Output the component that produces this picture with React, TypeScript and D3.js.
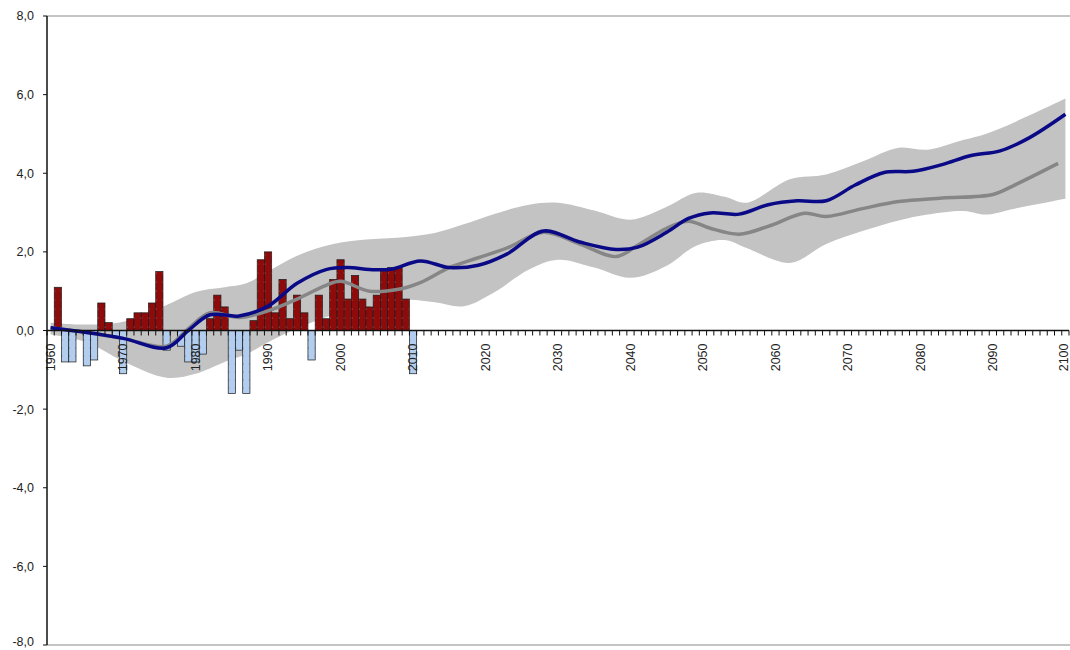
import React from 'react';
import * as d3 from 'd3';

// yearly anomaly bars (observed)
const barYears = d3.range(1961, 2011);
const anomalies = [
  1.1, -0.8, -0.8, 0.0, -0.9, -0.75, 0.7, 0.2, -0.15, -1.1,
  0.3, 0.45, 0.45, 0.7, 1.5, -0.5, 0.0, -0.4, -0.8, -0.8,
  -0.6, 0.3, 0.9, 0.6, -1.6, -0.5, -1.6, 0.25, 1.8, 2.0,
  0.45, 1.3, 0.3, 0.9, 0.45, -0.75, 0.9, 0.3, 1.3, 1.8,
  0.8, 1.4, 0.8, 0.6, 0.9, 1.55, 1.6, 1.6, 0.8, -1.1
];

// blue smoothed series
const blueYears = [1960, 1965, 1970, 1976, 1979, 1982, 1986, 1990, 1994, 1998, 2001, 2004, 2007, 2011, 2015, 2019, 2023, 2028, 2033, 2038, 2041, 2045, 2048, 2051, 2055, 2059, 2063, 2067, 2071, 2075, 2079, 2083, 2087, 2091, 2095, 2100];
const blueValues = [0.07, -0.05, -0.2, -0.44, 0.0, 0.4, 0.37, 0.62, 1.2, 1.55, 1.6, 1.55, 1.56, 1.77, 1.6, 1.66, 1.95, 2.53, 2.25, 2.06, 2.12, 2.5, 2.85, 2.99, 2.96, 3.2, 3.3, 3.3, 3.7, 4.02, 4.05, 4.22, 4.45, 4.57, 4.9, 5.5];

// grey smoothed series
const greyYears = [1960, 1965, 1970, 1976, 1979, 1982, 1986, 1990, 1994, 1998, 2000, 2004, 2008, 2011, 2015, 2019, 2023, 2028, 2033, 2038, 2041, 2045, 2048, 2051, 2055, 2059, 2064, 2067, 2072, 2077, 2083, 2090, 2093, 2099];
const greyValues = [0.07, -0.05, -0.2, -0.4, 0.05, 0.45, 0.33, 0.5, 0.8, 1.15, 1.25, 1.0, 1.05, 1.22, 1.6, 1.85, 2.1, 2.5, 2.2, 1.88, 2.17, 2.6, 2.78, 2.6, 2.45, 2.65, 2.98, 2.9, 3.1, 3.28, 3.37, 3.46, 3.7, 4.25];

// uncertainty band
const bandYears = [1960, 1965, 1970, 1976, 1980, 1984, 1987, 1990, 1994, 1999, 2004, 2009, 2013, 2017, 2021, 2026, 2030, 2035, 2040, 2045, 2049, 2053, 2056, 2062, 2067, 2072, 2077, 2081, 2086, 2089, 2093, 2100];
const bandHigh = [0.2, 0.15, 0.22, 0.65, 0.98, 1.1, 1.2, 1.5, 1.9, 2.2, 2.32, 2.38, 2.48, 2.7, 2.95, 3.2, 3.25, 3.05, 2.82, 3.15, 3.5, 3.4, 3.25, 3.85, 3.97, 4.3, 4.65, 4.6, 4.85, 5.0, 5.3, 5.9];
const bandLow = [-0.1, -0.3, -0.78, -1.2, -1.1, -0.8, -0.6, -0.3, 0.05, 0.4, 0.6, 0.78, 0.72, 0.62, 0.95, 1.55, 1.8, 1.6, 1.34, 1.65, 2.15, 2.3, 2.1, 1.72, 2.2, 2.53, 2.8, 2.95, 3.04, 2.95, 3.1, 3.35];

const categories = d3.range(1960, 2101);
const labelYears = d3.range(1960, 2101, 10);
const yTicks = [8, 6, 4, 2, 0, -2, -4, -6, -8];

const W = 1070;
const H = 650;
const left = 47;
const right = 1069;

export default function App() {
  const x = d3.scaleBand<number>().domain(categories).range([left, right]).padding(0);
  const bw = x.bandwidth();
  const cx = (yr: number) => (x(yr) as number) + bw / 2;
  const y = d3.scaleLinear().domain([-8, 8]).range([645, 16]);
  const y0 = y(0);
  const fmt = (v: number) => d3.format('.1f')(v).replace('.', ',').replace('−', '-');

  const curve = d3.curveCatmullRom.alpha(0.5);
  const line = d3.line<[number, number]>().x(d => cx(d[0])).y(d => y(d[1])).curve(curve);
  const band = d3.area<number>()
    .x((d, i) => cx(bandYears[i]))
    .y0((d, i) => y(bandLow[i]))
    .y1((d, i) => y(bandHigh[i]))
    .curve(curve);

  const bluePts = blueYears.map((yr, i) => [yr, blueValues[i]] as [number, number]);
  const greyPts = greyYears.map((yr, i) => [yr, greyValues[i]] as [number, number]);

  const font = '"Liberation Sans", Arial, sans-serif';

  return (
    <svg width={W} height={H} style={{ position: 'absolute', left: 0, top: 0, background: '#fff' }}>
      <defs>
        <pattern id="redDots" patternUnits="userSpaceOnUse" width={7.25} height={9}>
          <rect width={7.25} height={9} fill="#8e0b0b" />
          <circle cx={3.6} cy={3} r={0.6} fill="#f0c0c0" />
        </pattern>
        <pattern id="blueDots" patternUnits="userSpaceOnUse" width={7.25} height={8}>
          <rect width={7.25} height={8} fill="#b3cdef" />
          <circle cx={3.6} cy={4} r={0.6} fill="#3a4a70" />
        </pattern>
      </defs>

      {/* frame lines */}
      <line x1={left} x2={W} y1={y(8)} y2={y(8)} stroke="#8a8a8a" strokeWidth={1} />
      <line x1={left} x2={W} y1={y(-8)} y2={y(-8)} stroke="#8a8a8a" strokeWidth={1} />

      {/* band */}
      <path d={band(bandHigh) || ''} fill="#c3c3c3" />

      {/* bars */}
      {barYears.map((yr, i) => {
        const v = anomalies[i];
        if (v === 0) return null;
        const top = v > 0 ? y(v) : y0;
        const h = Math.abs(y(v) - y0);
        return (
          <rect key={yr} x={x(yr) as number} y={top} width={bw} height={h}
            fill={v > 0 ? 'url(#redDots)' : 'url(#blueDots)'} stroke="#1a1a1a" strokeWidth={0.7} />
        );
      })}

      {/* x labels */}
      {labelYears.map(yr => (
        <text key={yr} transform={`translate(${Math.min(cx(yr), 1064)},${y0 + 13}) rotate(-90)`}
          textAnchor="end" dy="0.35em" fontFamily={font} fontSize={12.5} fill="#222">{yr}</text>
      ))}

      {/* lines */}
      <path d={line(greyPts) || ''} fill="none" stroke="#868686" strokeWidth={3.5} strokeLinejoin="round" />
      <path d={line(bluePts) || ''} fill="none" stroke="#0a0a86" strokeWidth={3.5} strokeLinejoin="round" />

      {/* x axis */}
      <line x1={left} x2={right} y1={y0} y2={y0} stroke="#111" strokeWidth={1.5} />
      {d3.range(categories.length + 1).map(i => {
        const xx = left + i * bw;
        return <line key={i} x1={xx} x2={xx} y1={y0} y2={y0 + 5} stroke="#111" strokeWidth={1} />;
      })}

      {/* y axis */}
      <line x1={left} x2={left} y1={y(8)} y2={y(-8)} stroke="#111" strokeWidth={1.5} />
      {yTicks.map(t => (
        <g key={t}>
          <line x1={left - 4} x2={left} y1={y(t)} y2={y(t)} stroke="#111" strokeWidth={1} />
          <text x={left - 13} y={Math.min(y(t), 642)} dy="0.35em" textAnchor="end" fontFamily={font} fontSize={12.5} fill="#222">{fmt(t)}</text>
        </g>
      ))}
    </svg>
  );
}
